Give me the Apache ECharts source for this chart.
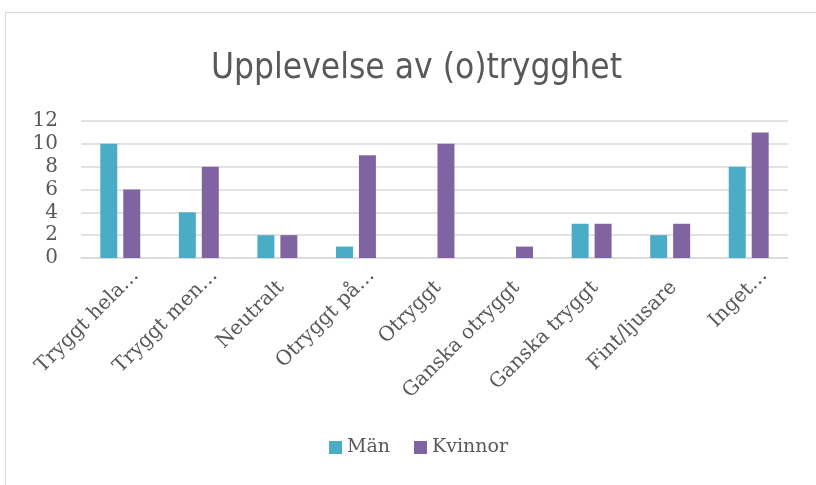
<!DOCTYPE html>
<html>
<head>
<meta charset="utf-8">
<script src="https://cdn.jsdelivr.net/npm/echarts@6/dist/echarts.min.js"></script>
<style>
    html, body { margin: 0; padding: 0; background: #fff; }
    #frame {
        position: absolute; left: 5px; top: 12px; width: 820px; height: 480px;
        border: 1px solid #d9d9d9; box-sizing: border-box;
    }
    #myChart { position: absolute; left: 0; top: 0; width: 816px; height: 485px; }
</style>
</head>
<body>
<div id="frame"></div>
<div id="myChart"></div>
<script>
    // data
    var categories = ['Tryggt hela…', 'Tryggt men…', 'Neutralt', 'Otryggt på…', 'Otryggt',
        'Ganska otryggt', 'Ganska tryggt', 'Fint/ljusare', 'Inget…'];
    var man = [10, 4, 2, 1, 0, 0, 3, 2, 8];
    var kvinnor = [6, 8, 2, 9, 10, 1, 3, 3, 11];
    var yTicks = [0, 2, 4, 6, 8, 10, 12];

    var serif = 'DejaVu Serif, Liberation Serif, serif';
    var labelText = { fontFamily: serif, fontSize: 20, color: '#595959' };
    var myChart = echarts.init(document.getElementById('myChart'));
    myChart.setOption({
        animation: false,
        title: {
            text: 'Upplevelse av (o)trygghet',
            left: 206,
            top: 46,
            textStyle: {
                fontFamily: 'Liberation Sans Narrow, DejaVu Sans Condensed, sans-serif',
                fontWeight: 'normal',
                fontSize: 35,
                color: '#595959'
            }
        },
        legend: {
            bottom: 23,
            left: 324,
            itemWidth: 13,
            itemHeight: 13,
            itemGap: 24,
            icon: 'rect',
            textStyle: { fontFamily: serif, fontSize: 19, color: '#595959' },
            data: ['Män', 'Kvinnor']
        },
        grid: { left: 81, right: 28, top: 121, bottom: 227 },
        xAxis: {
            type: 'category',
            data: categories,
            axisLine: { lineStyle: { color: '#d9d9d9', width: 1.5 } },
            axisTick: { show: false },
            axisLabel: {
                rotate: 45,
                interval: 0,
                margin: 30,
                padding: [0, -22, 0, 0],
                fontFamily: serif,
                fontSize: 20,
                color: '#595959',
                // truncated labels sit a bit further along the diagonal than whole ones
                formatter: function (v) {
                    return v.slice(-1) === '…' ? '{e|' + v + '}' : '{n|' + v + '}';
                },
                rich: {
                    e: labelText,
                    n: Object.assign({ padding: [0, 17, 0, 0] }, labelText)
                }
            }
        },
        yAxis: {
            type: 'value',
            min: yTicks[0],
            max: yTicks[yTicks.length - 1],
            interval: 2,
            axisLine: { show: false },
            axisTick: { show: false },
            splitLine: { lineStyle: { color: '#d9d9d9', width: 1.5 } },
            axisLabel: { fontFamily: serif, fontSize: 20, color: '#595959', margin: 23 }
        },
        series: [
            {
                name: 'Män',
                type: 'bar',
                data: man,
                barWidth: 17,
                barGap: '35%',
                itemStyle: { color: '#4bacc6' }
            },
            {
                name: 'Kvinnor',
                type: 'bar',
                data: kvinnor,
                barWidth: 17,
                itemStyle: { color: '#8064a2' }
            }
        ]
    });
</script>
</body>
</html>
